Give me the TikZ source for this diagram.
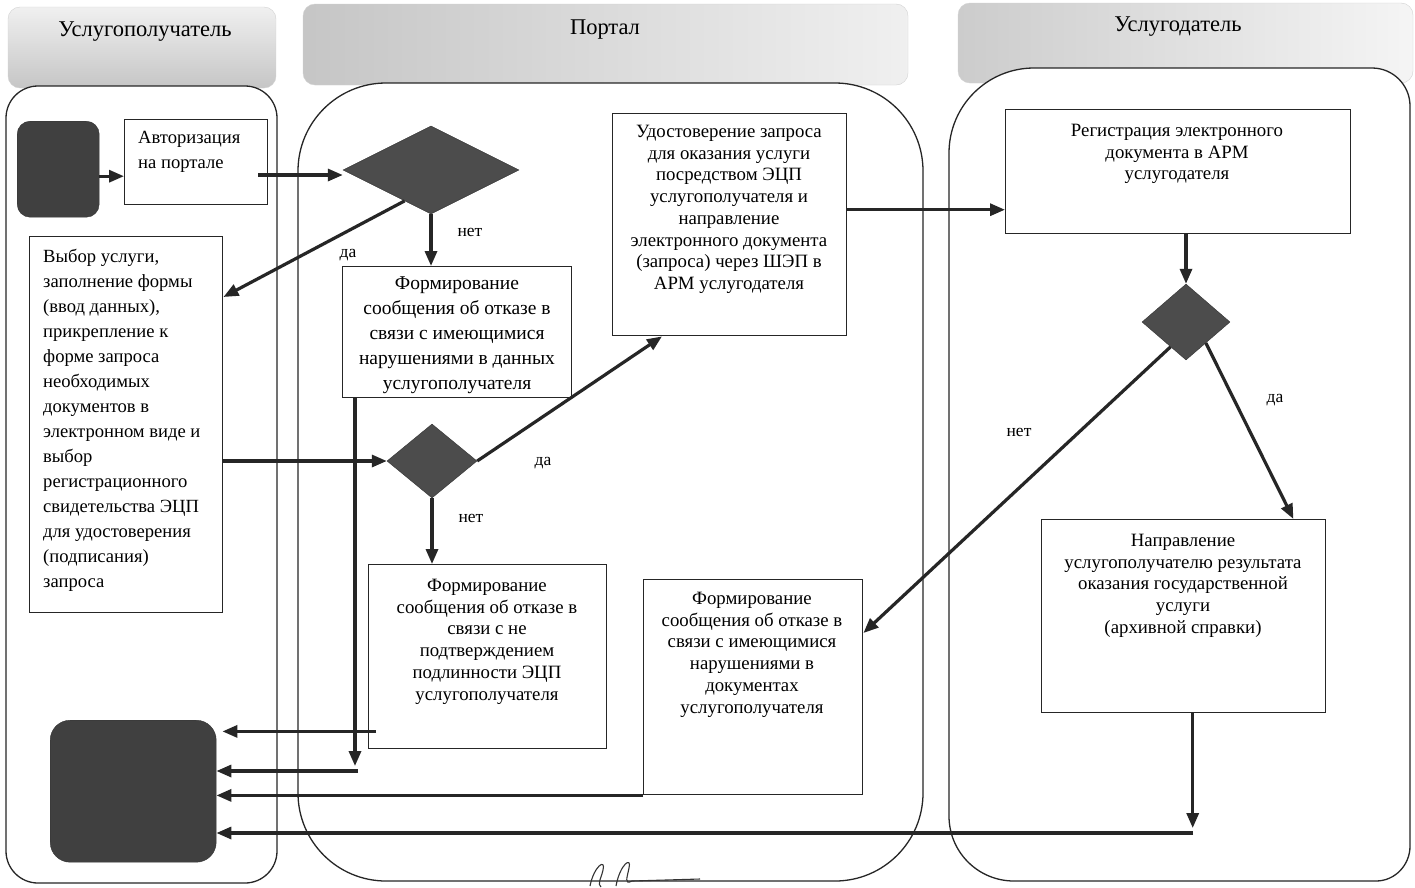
\documentclass[tikz,border=0pt]{standalone}
\usepackage{fontspec}
\setmainfont{Liberation Serif}
\usetikzlibrary{shapes.geometric,arrows.meta,calc}
\begin{document}
\begin{tikzpicture}[x=1pt,y=-1pt,
  lane/.style={draw=black!85, line width=1.3pt, fill=white},
  hdr/.style={rounded corners=12pt, draw=gray!35},
  htxt/.style={font=\fontsize{22.5}{26}\selectfont, inner sep=0pt},
  box/.style={draw=black!85, line width=1.4pt, fill=white, inner sep=0pt, anchor=north west},
  btxt/.style={font=\fontsize{18.8}{21.7}\selectfont, align=center, inner sep=0pt, anchor=north},
  ltxt/.style={font=\fontsize{18.6}{25}\selectfont, align=left, inner sep=0pt, anchor=north west},
  term/.style={fill=black!75, draw=black!80, inner sep=0pt, anchor=north west},
  dec/.style={diamond, fill=black!70, draw=black!80, inner sep=0pt},
  arr/.style={line width=3.2pt, draw=black!85, -{Triangle[length=15pt,width=12pt]}},
  lbl/.style={font=\fontsize{17.5}{20}\selectfont, inner sep=0pt}
]
\useasboundingbox (0,0) rectangle (1415,887);
\fill[white] (0,0) rectangle (1415,887);

% headers
\shade[hdr, top color=gray!12, bottom color=gray!45] (8,7) rectangle (276,88);
\shade[hdr, left color=gray!45, right color=gray!12] (303,4) rectangle (908,85);
\shade[hdr, left color=gray!40, right color=gray!8] (958,3) rectangle (1413,83);

% lanes
\draw[lane, rounded corners=32pt] (6,86) rectangle (277,883);
\draw[lane, rounded corners=88pt] (298,83) rectangle (923,881);
\draw[lane] (1034,68) -- (1372,68) .. controls (1393,68) and (1410,85) .. (1410,106)
  -- (1410,846) .. controls (1410,865) and (1395,881) .. (1376,881)
  -- (1014,881) .. controls (978,881) and (949,852) .. (949,816)
  -- (949,153) .. controls (949,106) and (987,68) .. (1034,68) -- cycle;

\node[htxt] (h1) at (145,32) {Услугополучатель};
\node[htxt] (h2) at (605,30) {Портал};
\node[htxt] (h3) at (1178,27) {Услугодатель};

% terminals
\node[term, rounded corners=13pt, minimum width=82pt, minimum height=96pt] (start) at (17,121) {};
\node[term, rounded corners=20pt, minimum width=166pt, minimum height=142pt] (end) at (50,720) {};

% boxes
\node[box, minimum width=143pt, minimum height=85pt] (auth) at (124,119) {};
\node[ltxt] (authT) at (138,131) {Авторизация\\на портале};

\node[box, minimum width=193pt, minimum height=376pt] (vybor) at (29,236) {};
\node[ltxt] (vyborT) at (43,249) {Выбор услуги,\\заполнение формы\\(ввод данных),\\прикрепление к\\форме запроса\\необходимых\\документов в\\электронном виде и\\выбор\\регистрационного\\свидетельства ЭЦП\\для удостоверения\\(подписания)\\запроса};

\node[box, minimum width=229pt, minimum height=131pt] (f1) at (342,266) {};
\node[btxt, font=\fontsize{19.5}{25}\selectfont] (f1T) at (457,277) {Формирование\\сообщения об отказе в\\связи с имеющимися\\нарушениями в данных\\услугополучателя};

\node[box, minimum width=238pt, minimum height=184pt] (f2) at (368,564) {};
\node[btxt] (f2T) at (487,579) {Формирование\\сообщения об отказе в\\связи с не\\подтверждением\\подлинности ЭЦП\\услугополучателя};

\node[box, minimum width=234pt, minimum height=222pt] (ud) at (612,113) {};
\node[btxt] (udT) at (729,125) {Удостоверение запроса\\для оказания услуги\\посредством ЭЦП\\услугополучателя и\\направление\\электронного документа\\(запроса) через ШЭП в\\АРМ услугодателя};

\node[box, minimum width=219pt, minimum height=215pt] (f3) at (643,579) {};
\node[btxt] (f3T) at (752,592) {Формирование\\сообщения об отказе в\\связи с имеющимися\\нарушениями в\\документах\\услугополучателя};

\node[box, minimum width=345pt, minimum height=124pt] (reg) at (1005,109) {};
\node[btxt] (regT) at (1177,124) {Регистрация электронного\\документа в АРМ\\услугодателя};

\node[box, minimum width=284pt, minimum height=193pt] (napr) at (1041,519) {};
\node[btxt] (naprT) at (1183,534) {Направление\\услугополучателю результата\\оказания государственной\\услуги\\(архивной справки)};

% decisions
\node[dec, minimum width=176pt, minimum height=88pt] (d1) at (431,170) {};
\node[dec, minimum width=90pt, minimum height=74pt] (d2) at (432,461) {};
\node[dec, minimum width=88pt, minimum height=76pt] (d3) at (1186,322) {};

% labels
\node[lbl] (l1) at (470,232) {нет};
\node[lbl] (l2) at (348,255) {да};
\node[lbl] (l3) at (543,463) {да};
\node[lbl] (l4) at (471,518) {нет};
\node[lbl] (l5) at (1275,400) {да};
\node[lbl] (l6) at (1019,432) {нет};

% connectors
\draw[arr] ([yshift=-7pt]start.east) -- ([yshift=-7pt]start.east -| auth.west);
\draw[arr] ([xshift=-10pt,yshift=-5pt]auth.east |- d1.west) -- ([yshift=-5pt]d1.west);
\draw[arr] ($(d1.west)!0.7!(d1.south)$) -- ([yshift=-61pt]vybor.north east);
\draw[arr] (d1.south) -- (d1.south |- f1.north);
\draw[arr] ([xshift=13pt]f1.south west) coordinate (c5a) -- (c5a |- 0,766);
\draw[arr] (358,771) coordinate (c5b) -- (c5b -| end.east);
\draw[arr] (vybor.east |- d2.west) -- (d2.west);
\draw[arr] (d2.east) -- ([xshift=50pt]ud.south west);
\draw[arr] (d2.south) -- (d2.south |- f2.north);
\draw[arr] ([shift={(8pt,18pt)}]f2.south west) coordinate (c9) -- ([xshift=6pt]c9 -| end.east);
\draw[arr] ([yshift=15pt]ud.east) -- ([yshift=15pt]ud.east -| reg.west);
\draw[arr] (d3.north |- reg.south) -- (d3.north);
\draw[arr] ($(d3.west)!0.65!(d3.south)$) -- ([yshift=-54pt]f3.north east);
\draw[arr] ($(d3.east)!0.55!(d3.south)$) -- ([xshift=-33pt]napr.north east);
\draw[arr] (f3.south west) -- (f3.south west -| end.east);
\draw[arr] ([xshift=9pt]napr.south) coordinate (c15) -- (c15 |- 0,828);
\draw[arr] (1193,833) coordinate (c15b) -- (c15b -| end.east);

% signature
\draw[line width=1.1pt, black!80] (590,886) .. controls (594,866) and (606,858) .. (603,870) .. controls (601,879) and (597,884) .. (601,887);
\draw[line width=1.1pt, black!80] (616,886) .. controls (620,864) and (632,856) .. (629,868) .. controls (627,878) and (624,885) .. (632,881) -- (700,879);
\end{tikzpicture}
\end{document}
